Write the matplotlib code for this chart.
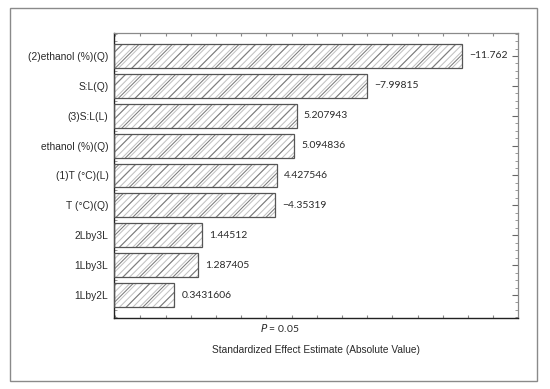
import matplotlib.pyplot as plt
from matplotlib.patches import Rectangle
from matplotlib.ticker import MultipleLocator, NullFormatter
import numpy as np

# Pareto chart of standardized effects
factors = ['(2)ethanol (%)(Q)', 'S:L(Q)', '(3)S:L(L)', 'ethanol (%)(Q)',
           '(1)T (°C)(L)', 'T (°C)(Q)', '2Lby3L', '1Lby3L', '1Lby2L']
effects = [-11.762, -7.99815, 5.207943, 5.094836, 4.427546, -4.35319,
           1.44512, 1.287405, 0.3431606]
effect_text = ['\u221211.762', '\u22127.99815', '5.207943', '5.094836',
               '4.427546', '\u22124.35319', '1.44512', '1.287405', '0.3431606']

x_min, x_max = -2.05, 13.98

plt.rcParams['hatch.linewidth'] = 0.75

fig = plt.figure(figsize=(5.5, 3.89), dpi=100)
fig.patches.append(Rectangle((0.018, 0.021), 0.958, 0.959, transform=fig.transFigure,
                             fill=False, edgecolor='#8a8a8a', lw=1.0))
ax = fig.add_axes([0.2073, 0.1825, 0.7345, 0.7327])

y = np.arange(len(factors))
widths = np.abs(effects) - x_min

# sketchy hatched bars: light fine hatch, darker sparse hatch, outline
ax.barh(y, widths, left=x_min, height=0.8, color='white', edgecolor='#c2c2c2',
        hatch='/////', lw=0, zorder=2)
ax.barh(y, widths, left=x_min, height=0.8, color='none', edgecolor='#7c7c7c',
        hatch='//', lw=0, zorder=3)
ax.barh(y, widths, left=x_min, height=0.8, fill=False, edgecolor='#555555',
        lw=0.9, zorder=4)

for yi, v, t in zip(y, effects, effect_text):
    ax.annotate(t, (abs(v), yi), xytext=(5, 0), textcoords='offset points',
                va='center', ha='left', fontsize=7.5, family='Lato', color='#2a2a2a',
                bbox=dict(boxstyle='square,pad=0.3', fc='white', ec='none'), zorder=5)

ax.set_xlim(x_min, x_max)
ax.set_ylim(len(factors) - 0.23, -0.77)
ax.set_yticks(y)
ax.set_yticklabels(factors, fontsize=7.4, family='Liberation Sans', color='#2a2a2a')
ax.yaxis.set_minor_locator(MultipleLocator(0.25))
ax.xaxis.set_major_locator(MultipleLocator(1))
ax.xaxis.set_major_formatter(NullFormatter())
ax.tick_params(axis='y', which='major', direction='in', length=4, left=True,
               right=True, color='#666666', pad=4)
ax.tick_params(axis='y', which='minor', direction='in', length=2, left=True,
               right=True, color='#888888')
ax.tick_params(axis='x', which='major', direction='in', length=2.5, top=True,
               bottom=True, color='#888888')

for side in ['top', 'right']:
    ax.spines[side].set_color('#8a8a8a')
    ax.spines[side].set_linewidth(0.9)
for side in ['left', 'bottom']:
    ax.spines[side].set_color('#222222')
    ax.spines[side].set_linewidth(1.0)

ax.set_xlabel('Standardized Effect Estimate (Absolute Value)', fontsize=7.3,
              family='Liberation Sans', color='#2a2a2a', labelpad=16)
fig.text(0.509, 0.157, '$P$ = 0.05', fontsize=7.5, family='Lato', color='#2a2a2a',
         ha='center', va='center')

fig.savefig('out.png', dpi=100)
